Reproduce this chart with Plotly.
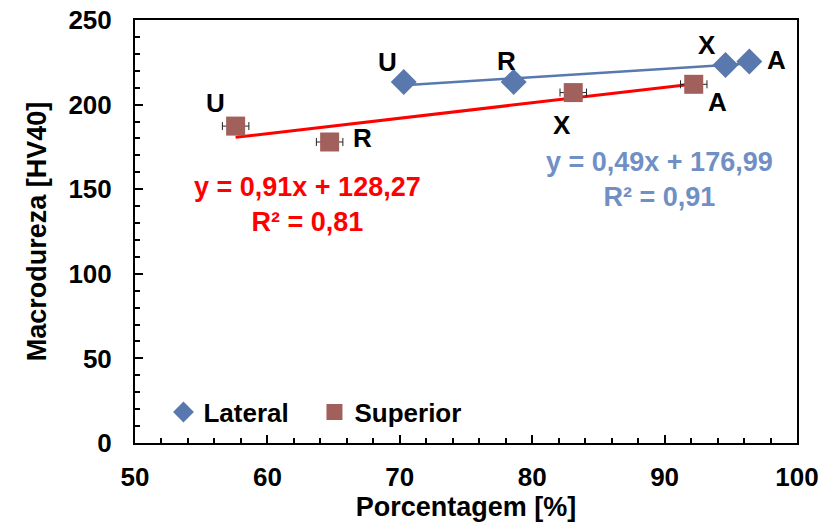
import plotly.graph_objects as go

# Data
lateral_x = [70.3, 78.6, 94.6, 96.4]
lateral_y = [213.4, 213.4, 223.4, 225.4]
lateral_labels = ["U", "R", "X", "A"]

superior_x = [57.6, 64.7, 83.1, 92.2]
superior_y = [187.3, 177.9, 207.1, 212.0]
superior_err = [1.0, 1.0, 1.0, 1.0]
superior_labels = ["U", "R", "X", "A"]

trend_lateral = [0.49, 176.99]   # slope, intercept
trend_superior = [0.91, 128.27]

# Styles
BLUE = "#5878AE"
BLUE_TXT = "#6F8FC5"
BROWN = "#A2605D"
RED = "#FF0000"
FONT = "Liberation Sans, Arial, sans-serif"
FS = 26

lat_shift = [(-16, 20), (-7, 21), (-19, 20), (27, 2)]
sup_shift = [(-20, 23), (33, 4), (-11, -32), (24, -18)]

fig = go.Figure()

# Trendlines (from stated coefficients, over data range)
lx = [min(lateral_x), max(lateral_x)]
fig.add_trace(go.Scatter(x=lx, y=[trend_lateral[0] * v + trend_lateral[1] for v in lx],
                         mode="lines", line=dict(color=BLUE, width=2.5),
                         showlegend=False, hoverinfo="skip"))
sx = [min(superior_x), max(superior_x)]
fig.add_trace(go.Scatter(x=sx, y=[trend_superior[0] * v + trend_superior[1] for v in sx],
                         mode="lines", line=dict(color=RED, width=3),
                         showlegend=False, hoverinfo="skip"))

fig.add_trace(go.Scatter(x=lateral_x, y=lateral_y, mode="markers", name="Lateral",
                         marker=dict(symbol="diamond", size=20, color=BLUE)))
fig.add_trace(go.Scatter(x=superior_x, y=superior_y, mode="markers", name="Superior",
                         marker=dict(symbol="square", size=19, color=BROWN),
                         error_x=dict(type="data", array=superior_err, color="#222222",
                                      thickness=1, width=4)))

ann = []
for x, y, t, (dx, dy) in zip(lateral_x, lateral_y, lateral_labels, lat_shift):
    ann.append(dict(x=x, y=y, text=t, showarrow=False, xshift=dx, yshift=dy,
                    font=dict(family=FONT, size=FS, color="black", weight="bold")))
for x, y, t, (dx, dy) in zip(superior_x, superior_y, superior_labels, sup_shift):
    ann.append(dict(x=x, y=y, text=t, showarrow=False, xshift=dx, yshift=dy,
                    font=dict(family=FONT, size=FS, color="black", weight="bold")))

ann.append(dict(x=0.261, y=0.563, xref="paper", yref="paper", showarrow=False,
                xanchor="center", yanchor="middle",
                text="y = 0,91x + 128,27<br>R² = 0,81", align="center",
                font=dict(family=FONT, size=27, color=RED, weight="bold")))
ann.append(dict(x=0.793, y=0.622, xref="paper", yref="paper", showarrow=False,
                xanchor="center", yanchor="middle",
                text="y = 0,49x + 176,99<br>R² = 0,91", align="center",
                font=dict(family=FONT, size=27, color=BLUE_TXT, weight="bold")))

axis_common = dict(showline=True, linecolor="black", linewidth=2, mirror=True,
                   ticks="inside", ticklen=8, tickwidth=1.5, tickcolor="black",
                   showgrid=False, zeroline=False, automargin=False,
                   ticklabeloverflow="allow",
                   tickfont=dict(family=FONT, size=FS, color="black", weight="bold"))

fig.update_layout(
    width=831, height=522,
    margin=dict(l=135, r=34, t=20, b=79),
    paper_bgcolor="white", plot_bgcolor="white",
    annotations=ann,
    xaxis=dict(range=[50, 100], dtick=10, tick0=50,
               minor=dict(dtick=2, ticks="inside", ticklen=5, tickcolor="black", tickwidth=1.5),
               ticklabelstandoff=10,
               title=dict(text="Porcentagem [%]", standoff=4,
                          font=dict(family=FONT, size=27, color="black", weight="bold")),
               **axis_common),
    yaxis=dict(range=[0, 250], dtick=50, tick0=0,
               minor=dict(dtick=10, ticks="inside", ticklen=5, tickcolor="black", tickwidth=1.5),
               ticklabelstandoff=16,
               title=dict(text="Macrodureza [HV40]", standoff=14,
                          font=dict(family=FONT, size=27, color="black", weight="bold")),
               **axis_common),
    legend=dict(orientation="h", x=0.043, y=0.073, xanchor="left", yanchor="middle",
                bgcolor="rgba(0,0,0,0)", entrywidth=106,
                font=dict(family=FONT, size=FS, color="black", weight="bold")),
)

fig.write_html("out.html", config={"displayModeBar": False},
               post_script="document.body.style.margin='0';document.body.style.overflow='hidden';")
